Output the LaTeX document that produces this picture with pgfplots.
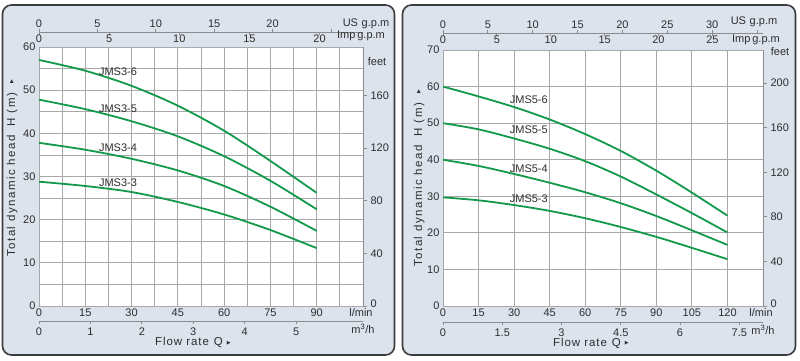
\documentclass[border=0pt]{standalone}
\usepackage{fontspec}
\setmainfont{Liberation Sans}
\newfontfamily\spaced[LetterSpace=8]{Liberation Sans}
\newfontfamily\spacedy[LetterSpace=13]{Liberation Sans}
\newfontfamily\sym{DejaVu Sans}
\usepackage{pgfplots}
\pgfplotsset{compat=1.18}
\definecolor{bgc}{HTML}{DCE3ED}
\definecolor{framec}{HTML}{3C3C3C}
\definecolor{gridc}{HTML}{A8A8A8}
\definecolor{curvec}{HTML}{12994A}
\definecolor{txt}{HTML}{2E2E2E}
\definecolor{axc}{HTML}{8C8C8C}
\tikzset{lab/.style={font=\fontsize{11}{13}\selectfont, text=txt}}
\pgfplotsset{
 base/.style={scale only axis, anchor=south west, clip=false,
   /pgf/number format/assume math mode=true,
   tick label style={font=\fontsize{11}{13}\selectfont, text=txt},
   axis line style={axc, line width=0.8pt},
   tick style={axc, line width=0.8pt}},
 sc/.style={base, height=1pt, ymin=0, ymax=1, axis y line=none,
   tick align=outside, major tick length=3pt, minor tick length=0pt},
 main/.style={base, axis background/.style={fill=white},
   grid style={gridc, line width=0.8pt}, minor grid style={gridc, line width=0.8pt},
   axis line style={gridc, line width=0.8pt},
   major tick length=0pt, minor tick length=0pt,
   xticklabel style={yshift=1pt}},
 feet/.style={base, axis y line*=right, axis x line=none, ymin=0,
   tick align=outside, major tick length=4pt, minor tick length=0pt},
 crv/.style={curvec, line width=1.8pt, smooth},
}
\begin{document}
\begin{tikzpicture}[x=1pt,y=1pt]
\useasboundingbox (0,0) rectangle (800,361);
\draw[fill=bgc, draw=framec, line width=1.6pt, rounded corners=9pt] (2.5,6) rectangle (394.5,356);
\draw[fill=bgc, draw=framec, line width=1.6pt, rounded corners=9pt] (402.5,6) rectangle (795.5,356);

% ---------------- left panel ----------------
\begin{axis}[main, at={(39pt,55pt)}, width=324pt, height=259pt,
  xmin=0, xmax=105, ymin=0, ymax=60,
  xtick={0,15,30,45,60,75,90,105},
  xticklabels={0,15,30,45,60,75,90,\hspace{-4pt}l/min},
  minor xtick={7.5,22.5,37.5,52.5,67.5,82.5,97.5},
  ytick={0,10,20,30,40,50,60}, minor ytick={5,15,25,35,45,55},
  grid=both]
\addplot[crv] coordinates {(0,57) (15,54.5) (30,51) (45,46.4) (60,40.6) (75,33.6) (90,26.2)};
\addplot[crv] coordinates {(0,47.8) (15,45.6) (30,42.8) (45,39.3) (60,34.7) (75,29) (90,22.4)};
\addplot[crv] coordinates {(0,37.8) (15,36.2) (30,34.1) (45,31.4) (60,27.8) (75,23.0) (90,17.4)};
\addplot[crv] coordinates {(0,28.8) (15,27.8) (30,26.4) (45,24.1) (60,21.2) (75,17.6) (90,13.4)};
\node[lab] at (axis cs:25.6,54.2) {JMS3-6};
\node[lab] at (axis cs:25.6,45.6) {JMS3-5};
\node[lab] at (axis cs:25.6,36.6) {JMS3-4};
\node[lab] at (axis cs:25.6,28.5) {JMS3-3};
\end{axis}
\begin{axis}[feet, at={(39pt,55pt)}, width=324pt, height=259pt,
  xmin=0, xmax=105, ymax=196.85, ytick={0,40,80,120,160},
  yticklabels={\raisebox{4pt}{0},40,80,120,160}]
\end{axis}
\begin{axis}[sc, at={(39pt,328pt)}, width=324pt, xmin=0, xmax=27.74,
  axis x line*=top, xtick={0,5,10,15,20,25}, xticklabels={0,5,10,15,20,{}},
  xticklabel style={yshift=-2pt}]
\end{axis}
\begin{axis}[sc, at={(39pt,329pt)}, width=324pt, xmin=0, xmax=23.097,
  axis x line*=bottom, xtick={0,5,10,15,20}, xticklabels={0,5,10,15,20},
  xticklabel style={yshift=4pt}]
\end{axis}
\begin{axis}[sc, at={(39pt,40pt)}, width=324pt, xmin=0, xmax=6.3,
  axis x line*=bottom, xtick={0,1,2,3,4,5}, xticklabels={0,1,2,3,4,5},
  extra x ticks={6.3}, extra x tick labels={m\textsuperscript{3}/h},
  extra x tick style={major tick length=0pt}]
\end{axis}
\node[lab] at (366,337) {US\,\,g.p.m};
\node[lab] at (361,325) {Imp\,g.p.m};
\node[lab] at (377,299) {feet};
\node[rotate=90, anchor=base west, inner sep=0pt, text=txt, font=\spacedy\fontsize{11.5}{13}\selectfont] at (15,104)
  {Total dynamic head\hspace{9pt}H (m)\hspace{10pt}\raisebox{2pt}{\sym\fontsize{5}{5}\selectfont ▶}};
\node[anchor=base west, inner sep=0pt, text=txt, font=\spaced\fontsize{11.5}{13}\selectfont] at (155,15)
  {Flow rate\hspace{5pt}Q\hspace{4pt}\raisebox{1.5pt}{\sym\fontsize{5}{5}\selectfont ▶}};

% ---------------- right panel ----------------
\begin{axis}[main, at={(443pt,55pt)}, width=320pt, height=256pt,
  xmin=0, xmax=135, ymin=0, ymax=70,
  xtick={0,15,30,45,60,75,90,105,120,135},
  xticklabels={0,15,30,45,60,75,90,105,120,\hspace{-4pt}l/min},
  ytick={0,10,20,30,40,50,60,70},
  grid=major]
\addplot[crv] coordinates {(0,60) (15,57.3) (30,54.4) (45,51.0) (60,47.0) (75,42.4) (90,37.0) (105,31.0) (120,24.7)};
\addplot[crv] coordinates {(0,50) (15,48.3) (30,45.8) (45,43.0) (60,39.6) (75,35.4) (90,30.5) (105,25.4) (120,20.1)};
\addplot[crv] coordinates {(0,40) (15,38.3) (30,36.1) (45,33.7) (60,31.1) (75,28.1) (90,24.6) (105,20.7) (120,16.7)};
\addplot[crv] coordinates {(0,29.7) (15,28.9) (30,27.6) (45,26.0) (60,24.0) (75,21.6) (90,18.9) (105,15.9) (120,12.8)};
\node[lab] at (axis cs:36.2,56.3) {JMS5-6};
\node[lab] at (axis cs:36.2,48.1) {JMS5-5};
\node[lab] at (axis cs:36.2,37.6) {JMS5-4};
\node[lab] at (axis cs:36.2,29.2) {JMS5-3};
\end{axis}
\begin{axis}[feet, at={(443pt,55pt)}, width=320pt, height=256pt,
  xmin=0, xmax=135, ymax=229.66, ytick={0,40,80,120,160,200},
  yticklabels={\raisebox{4pt}{0},40,80,120,160,200}]
\end{axis}
\begin{axis}[sc, at={(443pt,327pt)}, width=320pt, xmin=0, xmax=35.66,
  axis x line*=top, xtick={0,5,10,15,20,25,30,35}, xticklabels={0,5,10,15,20,25,30,{}},
  xticklabel style={yshift=-2pt}]
\end{axis}
\begin{axis}[sc, at={(443pt,328pt)}, width=320pt, xmin=0, xmax=29.70,
  axis x line*=bottom, xtick={0,5,10,15,20,25}, xticklabels={0,5,10,15,20,25},
  xticklabel style={yshift=4pt}]
\end{axis}
\begin{axis}[sc, at={(443pt,39pt)}, width=320pt, xmin=0, xmax=8.1,
  axis x line*=bottom, xtick={0,1.5,3,4.5,6,7.5}, xticklabels={0,1.5,3,4.5,6,7.5},
  extra x ticks={8.1}, extra x tick labels={m\textsuperscript{3}/h},
  extra x tick style={major tick length=0pt}]
\end{axis}
\node[lab] at (754,339) {US\,\,g.p.m};
\node[lab] at (756,321) {Imp\,g.p.m};
\node[lab] at (780,309) {feet};
\node[rotate=90, anchor=base west, inner sep=0pt, text=txt, font=\spacedy\fontsize{11.5}{13}\selectfont] at (422,94)
  {Total dynamic head\hspace{9pt}H (m)\hspace{10pt}\raisebox{2pt}{\sym\fontsize{5}{5}\selectfont ▶}};
\node[anchor=base west, inner sep=0pt, text=txt, font=\spaced\fontsize{11.5}{13}\selectfont] at (553,14.5)
  {Flow rate\hspace{5pt}Q\hspace{4pt}\raisebox{1.5pt}{\sym\fontsize{5}{5}\selectfont ▶}};
\end{tikzpicture}
\end{document}
